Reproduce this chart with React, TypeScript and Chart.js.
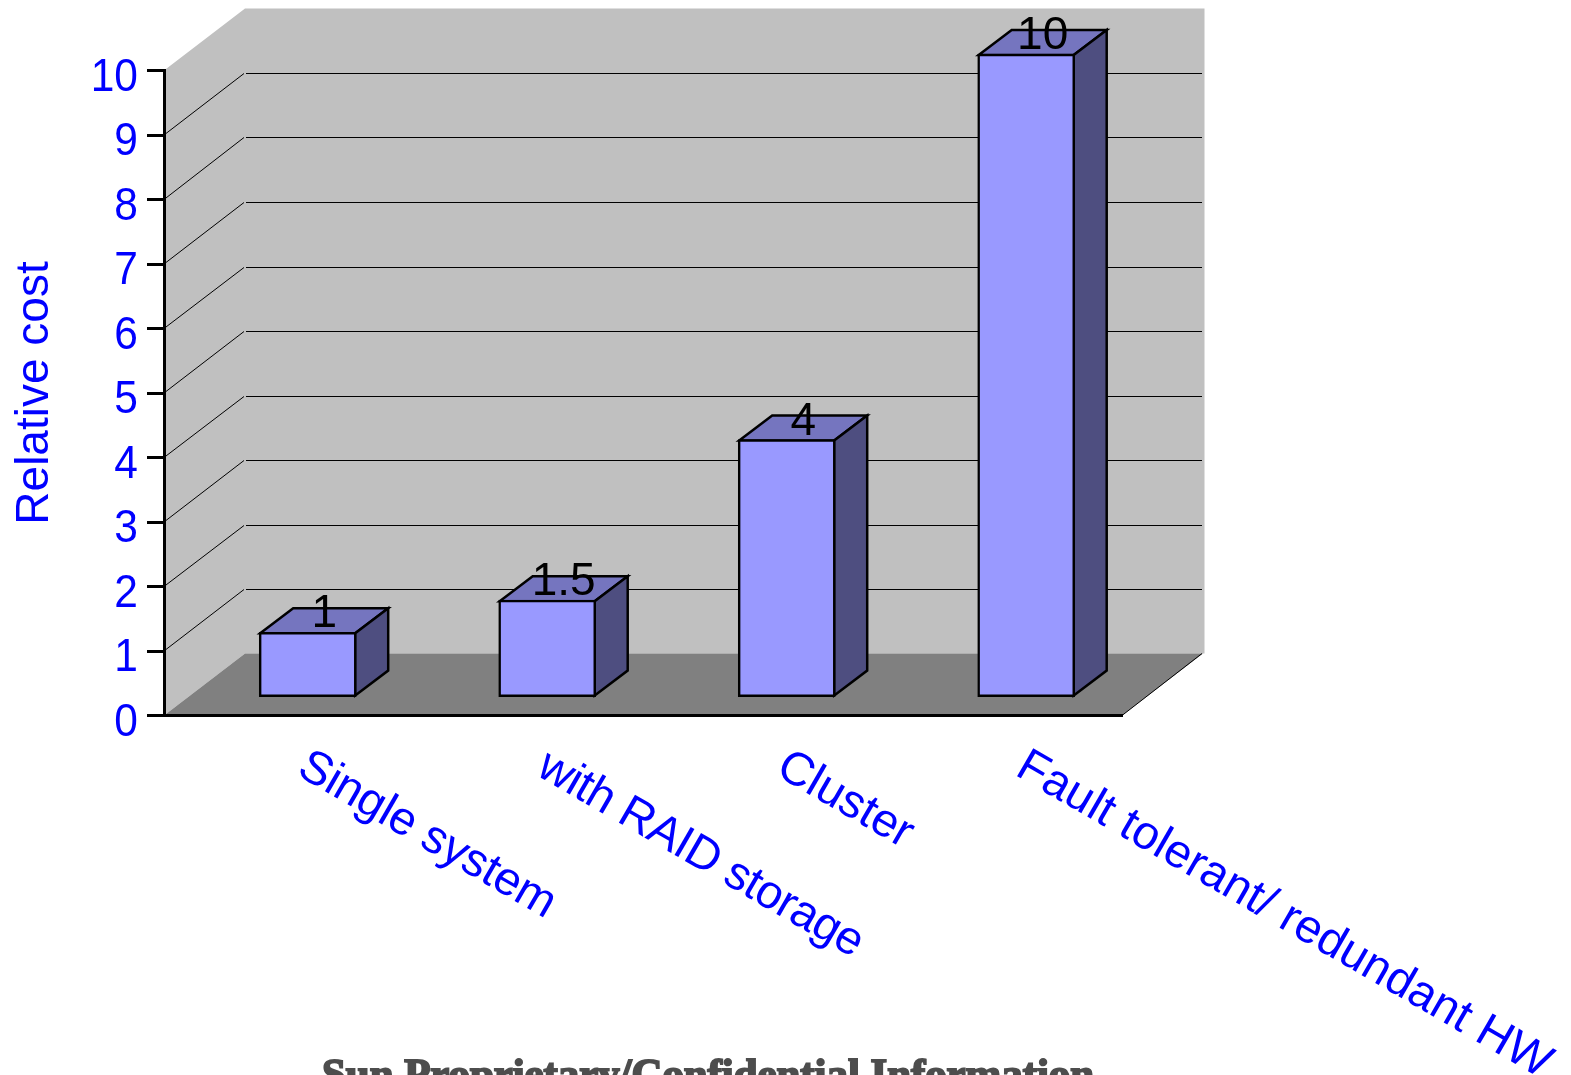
import React, { useEffect, useRef } from "react";
import { Chart, registerables } from "chart.js";

Chart.register(...registerables);

const categories = ["Single system", "with RAID storage", "Cluster", "Fault tolerant/ redundant HW"];
const positions = [0, 1, 2, 3];
const relativeCost = [1, 1.5, 4, 10];
const valueLabels = ["1", "1.5", "4", "10"];
const footerText = "Sun Proprietary/Confidential Information";
const axisTitle = "Relative cost";

const SANS = '"Liberation Sans", Arial, sans-serif';
const SERIF = '"Liberation Serif", serif';
const BLUE = "#0000ff";

// Depth of the box behind the front axis plane, and of each bar.
const BOX_DX = 81;
const BOX_DY = -62;
const BAR_DX = 33;
const BAR_DY = -25;

// Tracking applied to each sloped category label.
const labelTracking = ["-0.27px", "-0.68px", "0px", "0.2px"];

function poly(ctx: CanvasRenderingContext2D, pts: number[][], fill: string, stroke?: string, width = 2.5) {
  ctx.beginPath();
  pts.forEach(([x, y], i) => (i ? ctx.lineTo(x, y) : ctx.moveTo(x, y)));
  ctx.closePath();
  ctx.fillStyle = fill;
  ctx.fill();
  if (stroke) {
    ctx.strokeStyle = stroke;
    ctx.lineWidth = width;
    ctx.lineJoin = "miter";
    ctx.stroke();
  }
}

// Back wall, side wall and floor of the 3D box, with its gridlines.
const boxPlugin = {
  id: "box",
  beforeDraw(chart: any) {
    const { ctx, chartArea: a, scales } = chart;
    const y = scales.y;
    const top = y.getPixelForValue(10);
    const bottom = y.getPixelForValue(0);
    const right = a.right;
    ctx.save();
    poly(ctx, [[a.left, top], [a.left + BOX_DX, top + BOX_DY], [right + BOX_DX + 1.5, top + BOX_DY], [right + BOX_DX + 1.5, bottom + BOX_DY], [a.left + BOX_DX, bottom + BOX_DY], [a.left, bottom]], "#c0c0c0");
    poly(ctx, [[a.left, bottom], [right, bottom], [right + BOX_DX, bottom + BOX_DY], [a.left + BOX_DX, bottom + BOX_DY]], "#808080");
    ctx.strokeStyle = "#000000";
    ctx.lineWidth = 1;
    for (let v = 1; v <= 9; v++) {
      const py = y.getPixelForValue(v);
      const back = Math.round(py + BOX_DY) + 0.5;
      ctx.beginPath();
      ctx.moveTo(a.left, py);
      ctx.lineTo(a.left + BOX_DX - 1, back);
      ctx.moveTo(a.left + BOX_DX + 1, back);
      ctx.lineTo(right + BOX_DX - 1, back);
      ctx.stroke();
    }
    ctx.beginPath();
    ctx.moveTo(right, bottom);
    ctx.lineTo(right + BOX_DX - 1, bottom + BOX_DY);
    ctx.stroke();
    ctx.restore();
  },
  // Side and top faces of each bar sit behind the front face.
  beforeDatasetsDraw(chart: any) {
    const { ctx } = chart;
    ctx.save();
    chart.getDatasetMeta(0).data.forEach((bar: any) => {
      const { x, y, base, width } = bar.getProps(["x", "y", "base", "width"], true);
      const l = x - width / 2 + 1;
      const r = x + width / 2 - 1;
      const t = y + 1;
      const b = base - 1;
      poly(ctx, [[l, t], [l + BAR_DX, t + BAR_DY], [r + BAR_DX, t + BAR_DY], [r, t]], "#7575bf", "#000000");
      poly(ctx, [[r, t], [r + BAR_DX, t + BAR_DY], [r + BAR_DX, b + BAR_DY], [r, b]], "#4e4e80", "#000000");
    });
    ctx.restore();
  },
  afterDatasetsDraw(chart: any) {
    const { ctx, scales } = chart;
    ctx.save();
    // Value labels above the bar tops.
    ctx.fillStyle = "#000000";
    ctx.font = `46px ${SANS}`;
    ctx.textAlign = "center";
    ctx.textBaseline = "alphabetic";
    chart.getDatasetMeta(0).data.forEach((bar: any, i: number) => {
      const { x, y } = bar.getProps(["x", "y"], true);
      ctx.fillText(valueLabels[i], x + 16.5, y - 5);
    });
    // Y tick labels: narrow, tall digits sitting a little under their ticks.
    ctx.fillStyle = BLUE;
    ctx.textAlign = "right";
    ctx.font = `42.5px ${SANS}`;
    scales.y.ticks.forEach((tick: any) => {
      ctx.save();
      ctx.translate(138, scales.y.getPixelForValue(tick.value) + 20);
      ctx.scale(1, 1.1);
      ctx.fillText(String(tick.value), 0, 0);
      ctx.restore();
    });
    // Category labels slope down to the right under the floor.
    ctx.textAlign = "left";
    ctx.textBaseline = "middle";
    ctx.font = `47px ${SANS}`;
    positions.forEach((p, i) => {
      ctx.save();
      (ctx as any).letterSpacing = labelTracking[i];
      ctx.translate(scales.x.getPixelForValue(p) - 6, 763);
      ctx.rotate((30 * Math.PI) / 180);
      ctx.fillText(categories[i], 0, 0);
      ctx.restore();
    });
    // Footer notice, cut by the lower page edge.
    ctx.fillStyle = "#4d4d4d";
    ctx.strokeStyle = "#4d4d4d";
    ctx.lineWidth = 2;
    ctx.font = `bold 42.8px ${SERIF}`;
    ctx.textAlign = "center";
    ctx.textBaseline = "alphabetic";
    ctx.fillText(footerText, 708, 1088);
    ctx.strokeText(footerText, 708, 1088);
    ctx.restore();
  },
};

export default function App() {
  const ref = useRef<HTMLCanvasElement>(null);

  useEffect(() => {
    const chart = new Chart(ref.current as HTMLCanvasElement, {
      type: "bar",
      data: {
        datasets: [
          {
            data: positions.map((p, i) => ({ x: p, y: relativeCost[i] })),
            xAxisID: "x",
            yAxisID: "yBars",
            base: 0,
            barThickness: 97,
            backgroundColor: "#9999ff",
            borderColor: "#000000",
            borderWidth: 2.5,
            borderSkipped: false,
            clip: false,
          } as any,
        ],
      },
      plugins: [boxPlugin],
      options: {
        responsive: false,
        animation: false,
        layout: { autoPadding: false, padding: { top: 70.5, bottom: 359.5, left: 0, right: 449 } },
        plugins: { legend: { display: false }, tooltip: { enabled: false } },
        scales: {
          x: {
            type: "linear",
            offset: false,
            min: -0.6,
            max: 3.4,
            ticks: { display: false },
            grid: { display: false },
            border: { display: true, color: "#000000", width: 3 },
            afterFit: (s: any) => {
              s.height = 0;
            },
          },
          y: {
            type: "linear",
            position: "left",
            min: 0,
            max: 10,
            ticks: { stepSize: 1, autoSkip: false, display: false },
            grid: { drawOnChartArea: false, drawTicks: true, tickLength: 17, tickColor: "#000000", tickWidth: 3 },
            border: { display: true, color: "#000000", width: 3 },
            title: {
              display: true,
              text: axisTitle,
              color: BLUE,
              font: { family: SANS, size: 46 },
              padding: { top: 8, bottom: 0 },
            },
            afterFit: (s: any) => {
              s.width = 164;
            },
          },
          // Front plane of the bars: raised off the axis plane and slightly compressed.
          yBars: {
            type: "linear",
            display: false,
            position: "left",
            min: -0.295,
            max: 9.745,
          },
        },
      } as any,
    });
    return () => chart.destroy();
  }, []);

  return (
    <canvas
      ref={ref}
      width={1571}
      height={1075}
      style={{ position: "absolute", left: 0, top: 0, width: 1571, height: 1075, display: "block" }}
    />
  );
}
